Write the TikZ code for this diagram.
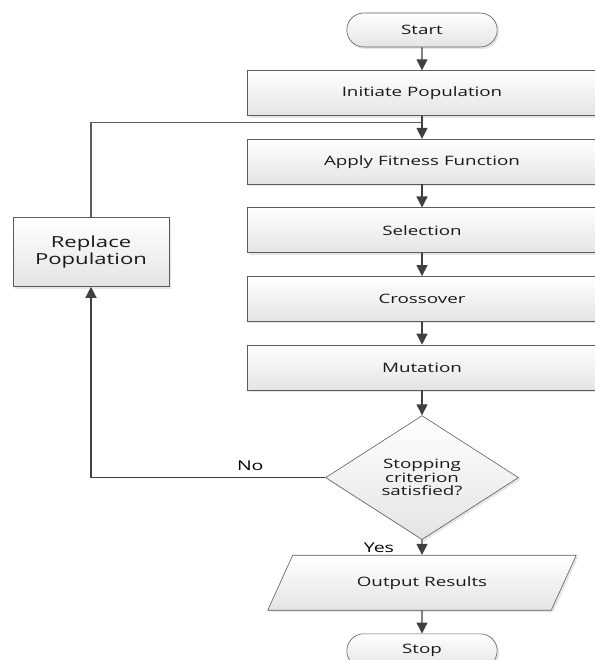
\documentclass[tikz,border=0pt]{standalone}
\usepackage{fontspec}
\setmainfont[FakeStretch=1.45]{Open Sans}
\usetikzlibrary{positioning,calc,shapes.geometric,shapes.misc,arrows.meta,shadows}

\definecolor{edgegray}{HTML}{5C5C5C}
\definecolor{arrowgray}{HTML}{404040}
\definecolor{fillbot}{HTML}{E4E4E4}

\tikzset{
  box/.style={draw=edgegray, top color=white, bottom color=fillbot, semithick,
    drop shadow={shadow xshift=2bp, shadow yshift=-2bp, opacity=0.2},
    font=\fontsize{13}{13.5}\selectfont, align=center, text=black!90},
  process/.style={box, rectangle, minimum width=350bp, minimum height=45bp},
  terminal/.style={box, rounded rectangle, minimum width=157bp, minimum height=34bp},
  decision/.style={box, diamond, aspect=1.55, inner sep=0pt, minimum width=193bp, minimum height=124bp},
  io/.style={box, trapezium, trapezium left angle=56, trapezium right angle=124,
    trapezium stretches=true, minimum width=309bp, minimum height=55bp},
  flow/.style={draw=arrowgray, line width=1.3bp, -{Triangle[length=11bp,width=11bp]}},
  plain/.style={draw=edgegray, line width=1.1bp},
  tag/.style={font=\fontsize{13.5}{15}\selectfont}
}

\begin{document}
\begin{tikzpicture}[x=1bp, y=1bp, node distance=23bp]
    \useasboundingbox (0,0) rectangle (595,-660);
    \node[terminal] (start) at (422,-30) {Start};
    \node[process, below=of start] (init) {Initiate Population};
    \node[process, below=of init] (fitness) {Apply Fitness Function};
    \node[process, below=of fitness] (select) {Selection};
    \node[process, below=of select] (cross) {Crossover};
    \node[process, below=of cross] (mutate) {Mutation};
    \node[decision, below=25bp of mutate] (check) {Stopping\\criterion\\satisfied?};
    \node[io, below=15bp of check] (output) {Output Results};
    \node[terminal, below=of output] (stop) {Stop};
    \node[box, rectangle, minimum width=156bp, minimum height=69bp,
      font=\fontsize{15.3}{16.5}\selectfont] (replace) at (91,-252) {Replace\\Population};
    \coordinate (join) at ($(init.south)!0.3!(fitness.north)$);

    \draw[flow] (start) -- (init);
    \draw[flow] (init) -- (fitness);
    \draw[flow] (fitness) -- (select);
    \draw[flow] (select) -- (cross);
    \draw[flow] (cross) -- (mutate);
    \draw[flow] (mutate) -- (check);
    \draw[flow] (check) -- node[tag, left=24bp] {Yes} (output);
    \draw[flow] (output) -- (stop);
    \draw[flow] (check.west) -| node[tag, pos=0.16, above=3bp] {No} (replace.south);
    \draw[plain] (replace.north) |- (join);
\end{tikzpicture}
\end{document}
